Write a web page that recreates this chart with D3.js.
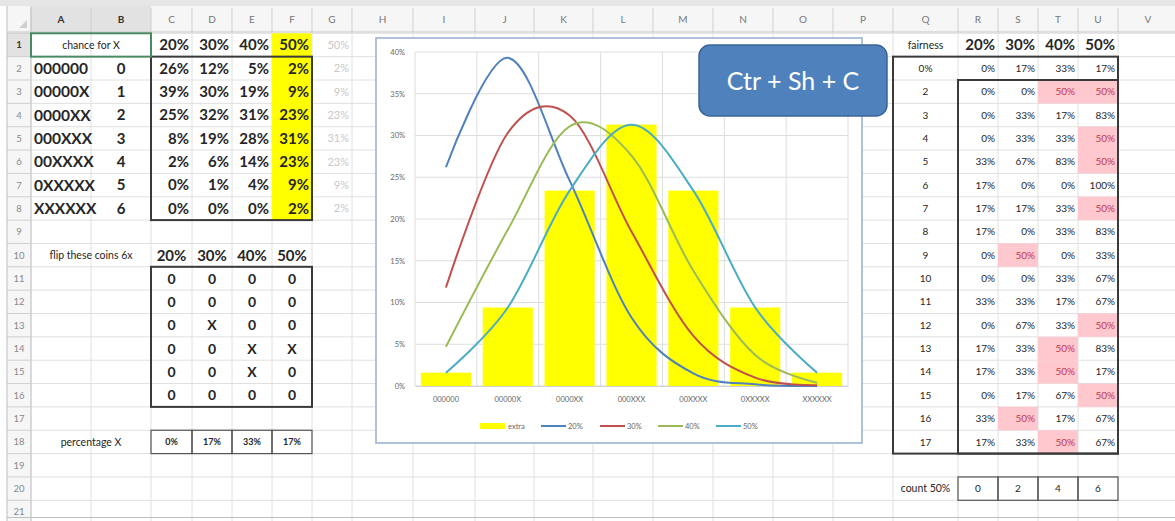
<!DOCTYPE html>
<html>
<head>
<meta charset="utf-8">
<script src="https://cdn.jsdelivr.net/npm/d3@7"></script>
<style>
  body { margin: 0; background: #fff; }
  svg { display: block; font-family: Lato, "Open Sans", sans-serif; }
</style>
</head>
<body>
<svg id="sheet" width="1175" height="521"></svg>
<script>
// ---- data ----
const probLabels = ["20%", "30%", "40%", "50%"];
const patterns = ["000000", "00000X", "0000XX", "000XXX", "00XXXX", "0XXXXX", "XXXXXX"];
const xCounts = [0, 1, 2, 3, 4, 5, 6];
const chance20 = [0.262, 0.393, 0.246, 0.082, 0.015, 0.002, 0.000];
const chance30 = [0.118, 0.303, 0.324, 0.185, 0.060, 0.010, 0.001];
const chance40 = [0.047, 0.187, 0.311, 0.276, 0.138, 0.037, 0.004];
const chance50 = [0.016, 0.094, 0.234, 0.313, 0.234, 0.094, 0.016];
const extra    = [0.016, 0.094, 0.234, 0.313, 0.234, 0.094, 0.016];
const flips20 = ["0", "0", "0", "0", "0", "0"];
const flips30 = ["0", "0", "X", "0", "0", "0"];
const flips40 = ["0", "0", "0", "X", "X", "0"];
const flips50 = ["0", "0", "0", "X", "0", "0"];
const percentageX = ["0%", "17%", "33%", "17%"];
const fairnessRows = ["0%", "2", "3", "4", "5", "6", "7", "8", "9", "10", "11", "12", "13", "14", "15", "16", "17"];
const fair20 = [0, 0, 0, 0, 33, 17, 17, 17, 0, 0, 33, 0, 17, 17, 0, 33, 17];
const fair30 = [17, 0, 33, 33, 67, 0, 17, 0, 50, 0, 33, 67, 33, 33, 17, 50, 33];
const fair40 = [33, 50, 17, 33, 83, 0, 33, 33, 0, 33, 17, 33, 50, 50, 67, 17, 50];
const fair50 = [17, 50, 83, 50, 50, 100, 50, 83, 33, 67, 67, 50, 83, 17, 50, 67, 67];
const count50 = [0, 2, 4, 6];
const yTicks = [0, 0.05, 0.10, 0.15, 0.20, 0.25, 0.30, 0.35, 0.40];

const svg = d3.select("#sheet");

// ---- sheet geometry ----
const cols = "ABCDEFGHIJKLMNOPQRSTUV".split("");
const edges = [31, 91, 151, 192, 232, 272, 312, 352, 413, 475, 534, 593, 653, 713, 773, 833, 893, 958, 998, 1038, 1078, 1118, 1178];
const L = c => edges[cols.indexOf(c)];
const R = c => edges[cols.indexOf(c) + 1];
const rowH = 23.35, row1 = 33.3;
const T = r => row1 + (r - 1) * rowH;
const pct = v => Math.round(v * 100) + "%";

svg.append("rect").attr("width", 1175).attr("height", 521).attr("fill", "#fff");
svg.append("rect").attr("width", 1175).attr("height", 6).attr("fill", "#e6e6e6");

// header row + row numbers
svg.append("rect").attr("x", 7).attr("y", 6).attr("width", 1168).attr("height", 26).attr("fill", "#f6f6f6");
svg.append("rect").attr("x", 7).attr("y", 6).attr("width", 24).attr("height", 515).attr("fill", "#f6f6f6");
svg.append("rect").attr("x", L("A")).attr("y", 6).attr("width", R("B") - L("A")).attr("height", 26).attr("fill", "#e2e2e2");
svg.append("rect").attr("x", 7).attr("y", T(1)).attr("width", 24).attr("height", rowH).attr("fill", "#e2e2e2");
svg.append("path").attr("d", "M27,28 L27,20 L19,28 Z").attr("fill", "#d0d0d0");

// gridlines
const grid = svg.append("g").attr("stroke", "#e0e0e0").attr("stroke-width", 1);
d3.range(1, 23).forEach(r => grid.append("line").attr("x1", 31).attr("x2", 1175).attr("y1", T(r)).attr("y2", T(r)));
edges.forEach(x => grid.append("line").attr("x1", x).attr("x2", x).attr("y1", 32).attr("y2", 521));
const hdr = svg.append("g").attr("stroke", "#cfcfcf");
edges.forEach(x => hdr.append("line").attr("x1", x).attr("x2", x).attr("y1", 8).attr("y2", 32));
d3.range(1, 23).forEach(r => hdr.append("line").attr("x1", 7).attr("x2", 31).attr("y1", T(r)).attr("y2", T(r)));
svg.append("line").attr("x1", 7).attr("x2", 1175).attr("y1", 32).attr("y2", 32).attr("stroke", "#c6c6c6");
svg.append("line").attr("x1", 31).attr("x2", 31).attr("y1", 6).attr("y2", 521).attr("stroke", "#c6c6c6");
svg.append("line").attr("x1", 7).attr("x2", 7).attr("y1", 6).attr("y2", 521).attr("stroke", "#bdbdbd");
svg.append("line").attr("x1", 7).attr("x2", 1175).attr("y1", 517.5).attr("y2", 517.5).attr("stroke", "#bdbdbd");

// column letters and row numbers
cols.forEach(c => svg.append("text").attr("x", (L(c) + R(c)) / 2).attr("y", 23)
  .attr("text-anchor", "middle").attr("font-size", 10)
  .attr("fill", c === "A" || c === "B" ? "#333" : "#777").attr("font-weight", c === "A" || c === "B" ? "bold" : null).text(c));
d3.range(1, 22).forEach(r => svg.append("text").attr("x", 19).attr("y", T(r) + rowH / 2 + 3.5)
  .attr("text-anchor", "middle").attr("font-size", 9.5)
  .attr("fill", r === 1 ? "#333" : "#888").attr("font-weight", r === 1 ? "bold" : null).text(r));

// fills
svg.append("rect").attr("x", L("F")).attr("y", T(1)).attr("width", R("F") - L("F")).attr("height", rowH * 8).attr("fill", "#ffff00");

function cell(col, row, txt, o = {}) {
  const size = o.size || 10;
  const x0 = L(col), x1 = o.to ? R(o.to) : R(col);
  let x = (x0 + x1) / 2, anchor = "middle";
  if (o.align === "left") { x = x0 + 3; anchor = "start"; }
  if (o.align === "right") { x = x1 - 3; anchor = "end"; }
  svg.append("text").attr("x", x).attr("y", T(row) + rowH / 2 + size * 0.36)
    .attr("text-anchor", anchor).attr("font-size", size)
    .attr("font-weight", o.bold ? "bold" : null)
    .attr("fill", o.color || "#262626").text(txt);
}
function box(c0, r0, c1, r1, w = 2, color = "#3a3a3a") {
  svg.append("rect").attr("x", L(c0)).attr("y", T(r0))
    .attr("width", R(c1) - L(c0)).attr("height", T(r1 + 1) - T(r0))
    .attr("fill", "none").attr("stroke", color).attr("stroke-width", w);
}

// ---- left block: chance table ----
cell("A", 1, "chance for X", { to: "B", size: 10.5 });
probLabels.forEach((p, i) => cell(cols[2 + i], 1, p, { align: "right", bold: true, size: 15 }));
cell("G", 1, "50%", { align: "right", size: 11, color: "#c8c8c8" });
[chance20, chance30, chance40, chance50].forEach((arr, i) =>
  arr.forEach((v, k) => cell(cols[2 + i], 2 + k, pct(v), { align: "right", bold: true, size: 15 })));
extra.forEach((v, k) => cell("G", 2 + k, pct(v), { align: "right", size: 11, color: "#c8c8c8" }));
patterns.forEach((p, k) => cell("A", 2 + k, p, { align: "left", bold: true, size: 15.5 }));
xCounts.forEach((n, k) => cell("B", 2 + k, n, { bold: true, size: 15 }));
box("C", 2, "F", 8);
svg.append("rect").attr("x", L("A")).attr("y", T(1)).attr("width", R("B") - L("A")).attr("height", rowH)
  .attr("fill", "none").attr("stroke", "#4a8a62").attr("stroke-width", 2);

// flip block
cell("A", 10, "flip these coins 6x", { to: "B", size: 10.5 });
probLabels.forEach((p, i) => cell(cols[2 + i], 10, p, { bold: true, size: 15 }));
[flips20, flips30, flips40, flips50].forEach((arr, i) =>
  arr.forEach((v, k) => cell(cols[2 + i], 11 + k, v, { bold: true, size: 14 })));
box("C", 11, "F", 16);
cell("A", 18, "percentage X", { to: "B", size: 10.5 });
percentageX.forEach((v, i) => { cell(cols[2 + i], 18, v, { bold: true, size: 9 }); box(cols[2 + i], 18, cols[2 + i], 18, 1.2, "#555"); });

// ---- right block: fairness ----
const pink = "#ffc7ce";
[fair20, fair30, fair40, fair50].forEach((arr, i) => arr.forEach((v, k) => {
  if (v === 50) svg.append("rect").attr("x", L(cols[17 + i])).attr("y", T(2 + k))
    .attr("width", R(cols[17 + i]) - L(cols[17 + i])).attr("height", rowH).attr("fill", pink);
}));
cell("Q", 1, "fairness", { size: 10.5 });
probLabels.forEach((p, i) => cell(cols[17 + i], 1, p, { align: "right", bold: true, size: 15 }));
fairnessRows.forEach((f, k) => cell("Q", 2 + k, f, { size: 10 }));
[fair20, fair30, fair40, fair50].forEach((arr, i) => arr.forEach((v, k) =>
  cell(cols[17 + i], 2 + k, v + "%", { align: "right", size: 10, color: v === 50 ? "#c0394a" : "#262626" })));
box("Q", 2, "U", 18);
box("R", 3, "U", 18);
cell("Q", 20, "count 50%", { size: 10.5 });
count50.forEach((v, i) => { cell(cols[17 + i], 20, v, { size: 10 }); box(cols[17 + i], 20, cols[17 + i], 20, 1.2, "#555"); });

// ---- chart ----
const chart = svg.append("g");
chart.append("rect").attr("x", 376).attr("y", 38).attr("width", 486).attr("height", 405)
  .attr("fill", "#fff").attr("stroke", "#9bb3d4").attr("stroke-width", 1.6);

const x = d3.scaleBand().domain(patterns).range([415, 848]).padding(0);
const xBar = d3.scaleBand().domain(patterns).range([415, 848]).paddingInner(0.19).paddingOuter(0.095);
const y = d3.scaleLinear().domain([0, 0.4]).range([386, 52]);

const cg = chart.append("g").attr("stroke", "#dedede").attr("stroke-width", 1);
yTicks.forEach(t => cg.append("line").attr("x1", 415).attr("x2", 848).attr("y1", y(t)).attr("y2", y(t)));
patterns.concat([null]).forEach((p, i) => {
  const gx = 415 + i * x.step();
  cg.append("line").attr("x1", gx).attr("x2", gx).attr("y1", y(0.4)).attr("y2", y(0));
});

const yAxis = chart.append("g").attr("transform", "translate(405,0)")
  .call(d3.axisLeft(y).tickValues(yTicks).tickFormat(d3.format(".0%")).tickSize(0).tickPadding(0));
yAxis.select(".domain").remove();
yAxis.selectAll("text").attr("font-size", 7.5).attr("fill", "#666").attr("font-family", "Lato, sans-serif");

const xAxis = chart.append("g").attr("transform", "translate(0,386)")
  .call(d3.axisBottom(x).tickSize(0).tickPadding(11));
xAxis.select(".domain").attr("stroke", "#d0d0d0");
xAxis.selectAll("text").attr("font-size", 7.5).attr("fill", "#666").attr("font-family", "Lato, sans-serif");

chart.selectAll(".bar").data(extra).enter().append("rect")
  .attr("x", (d, i) => xBar(patterns[i]))
  .attr("y", d => y(d))
  .attr("width", xBar.bandwidth())
  .attr("height", d => y(0) - y(d))
  .attr("fill", "#ffff00");

const series = [
  { name: "20%", values: chance20, color: "#4f81bd" },
  { name: "30%", values: chance30, color: "#c0504d" },
  { name: "40%", values: chance40, color: "#9bbb59" },
  { name: "50%", values: chance50, color: "#4bacc6" }
];
const line = d3.line()
  .x((d, i) => x(patterns[i]) + x.bandwidth() / 2)
  .y(d => y(d))
  .curve(d3.curveCardinal.tension(0));
series.forEach(s => chart.append("path").attr("d", line(s.values))
  .attr("fill", "none").attr("stroke", s.color).attr("stroke-width", 2));

// legend
const lg = chart.append("g").attr("font-size", 7.5).attr("fill", "#666");
lg.append("rect").attr("x", 480).attr("y", 423).attr("width", 25).attr("height", 6).attr("fill", "#ffff00");
lg.append("text").attr("x", 508).attr("y", 429).text("extra");
const legendX = [541, 600, 658, 716];
series.forEach((s, i) => {
  lg.append("line").attr("x1", legendX[i]).attr("x2", legendX[i] + 25).attr("y1", 426).attr("y2", 426)
    .attr("stroke", s.color).attr("stroke-width", 2);
  lg.append("text").attr("x", legendX[i] + 27).attr("y", 429).text(s.name);
});

// callout
svg.append("rect").attr("x", 699).attr("y", 45).attr("width", 188).attr("height", 71).attr("rx", 11)
  .attr("fill", "#4f81bd").attr("stroke", "#3a6496").attr("stroke-width", 1.5);
svg.append("text").attr("x", 793).attr("y", 90).attr("text-anchor", "middle")
  .attr("font-size", 25).attr("fill", "#fff").text("Ctr + Sh + C");
</script>
</body>
</html>
